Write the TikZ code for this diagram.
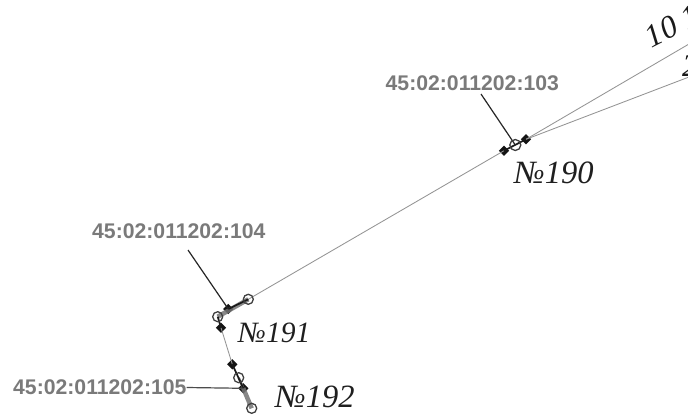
\documentclass[tikz,border=0pt]{standalone}
\usepackage{fontspec}
\setmainfont{Liberation Serif}
\newfontfamily\lblfont{Liberation Sans}
\usetikzlibrary{shapes.geometric}
\tikzset{
 cad/.style={font=\lblfont\fontsize{21.2}{23}\selectfont\bfseries,text=black!52,inner sep=0pt},
 sitename/.style={font=\fontsize{32.5}{34}\selectfont\itshape,text=black!88,inner sep=0pt},
 nmb/.style={font=\fontsize{32}{34}\selectfont\itshape,text=black!90,inner sep=0pt},
 bound/.style={draw=black!42,line width=0.85pt},
 band/.style={draw=black!55,line width=4.5pt,opacity=.85},
 core/.style={draw=black!90,line width=1.7pt},
 leader/.style={draw=black!85,line width=1.2pt},
 pt/.style={circle,draw=black!75,line width=1.3pt,minimum size=10pt,inner sep=0pt},
 tick/.style={diamond,fill=black!92,minimum size=10.5pt,inner sep=0pt},
 free/.style={coordinate}
}
\begin{document}
\begin{tikzpicture}[x=1pt,y=-1pt]
\clip (0,0) rectangle (688,416);
\fill[white] (0,0) rectangle (688,416);
% nodes
\node[free] (e1) at (689,44) {};
\node[free] (e2) at (689,77) {};
\node[tick] (d190a) at (504,150.7) {};
\node[tick] (d190b) at (526,139.3) {};
\node[tick] (d191a) at (228.3,309) {};
\node[tick] (d191b) at (221,327.7) {};
\node[tick] (d192a) at (232.3,364.3) {};
\node[tick] (d192b) at (243.3,388.3) {};
\node[free] (p190) at (515.3,145) {};
\node[free] (p191a) at (248.3,299.3) {};
\node[free] (p191b) at (217.7,316.7) {};
\node[free] (p192a) at (238.7,377.7) {};
\node[free] (p192b) at (251.7,408.3) {};
\node[cad,anchor=west] (l103) at (385.5,83) {45:02:011202:103};
\node[cad,anchor=west] (l104) at (92,231.5) {45:02:011202:104};
\node[cad,anchor=west] (l105) at (13,387.5) {45:02:011202:105};
\node[free] (a103) at (481,94) {};
\node[free] (a104) at (188,250) {};
\node[sitename,anchor=west] (n190) at (514,172.5) {№190};
\node[sitename,anchor=west,font=\fontsize{29.5}{31}\selectfont\itshape] (n191) at (238,332.5) {№191};
\node[sitename,anchor=west] (n192) at (275,396.5) {№192};
\node[nmb,anchor=west,rotate=27] (n10) at (647,39) {10\hspace{8pt}1};
\node[nmb,anchor=west] (n2) at (682,65.5) {2};
% connectors
\draw[bound] (d190b.center) -- (e1);
\draw[bound] (d190b.center) -- (e2);
\draw[bound] (d190a.center) -- (p191a);
\draw[bound] (d191b.center) -- (d192a.center);
\draw[band] (p191a) -- (p191b);
\draw[band] (d192b.center) -- (p192b);
\draw[band,line width=2.5pt] (p192a) -- (d192b.center);
\draw[core] (d190a.center) -- (d190b.center);
\draw[core] (p191a) -- (d191a.center);
\draw[core] (p191b) -- (d191b.center);
\draw[core] (d192a.center) -- (d192b.center);
\draw[leader] (a103) -- (p190);
\draw[leader] (a104) -- (d191a.center);
\draw[leader,draw=black!70] (l105.east) -- (d192b.center);
\node[pt,minimum size=11pt] (c190) at (p190) {};
\node[pt] (c191a) at (p191a) {};
\node[pt] (c191b) at (p191b) {};
\node[pt] (c192a) at (p192a) {};
\node[pt] (c192b) at (p192b) {};
\end{tikzpicture}
\end{document}
